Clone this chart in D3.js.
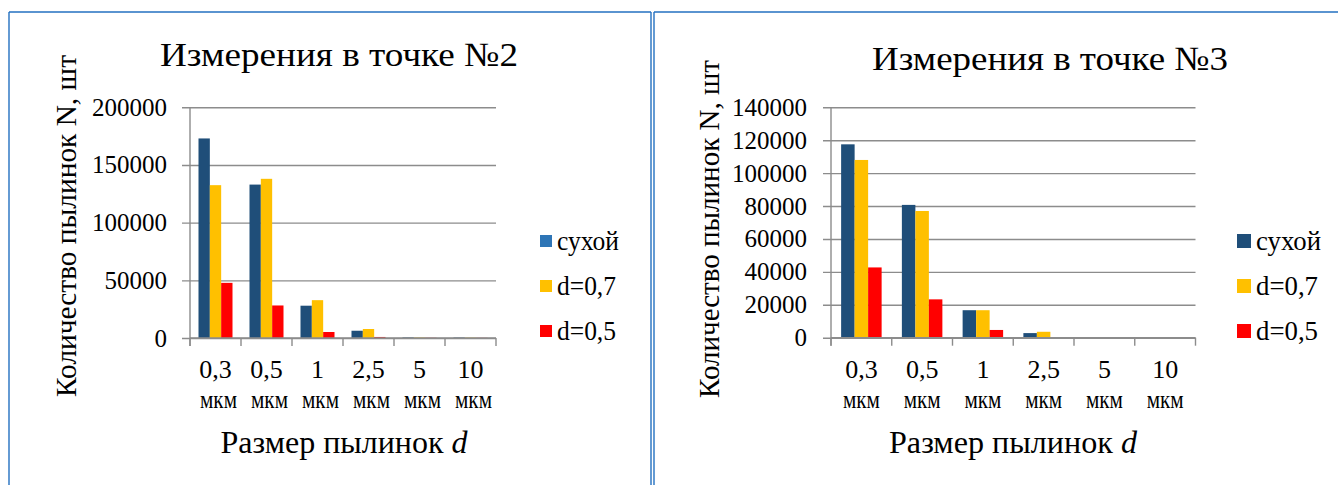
<!DOCTYPE html>
<html>
<head>
<meta charset="utf-8">
<script src="https://cdnjs.cloudflare.com/ajax/libs/d3/7.8.5/d3.min.js"></script>
</head>
<body style="margin:0">
<svg id="chart" width="1338" height="485" font-family="Liberation Serif" style="font-family: 'Liberation Serif'"></svg>
<script>
// Particle size classes (x axis)
const categories = ["0,3", "0,5", "1", "2,5", "5", "10"];
const unitLabel = "мкм";
const seriesNames = ["сухой", "d=0,7", "d=0,5"];

// Measurement point №2, particle counts
const point2Dry = [173000, 133000, 28000, 6300, 500, 400];
const point2D07 = [132500, 138000, 32800, 7800, 400, 300];
const point2D05 = [47800, 28200, 5200, 900, 200, 150];
const point2Ticks = [0, 50000, 100000, 150000, 200000];

// Measurement point №3, particle counts
const point3Dry = [117500, 80700, 16700, 2800, 300, 300];
const point3D07 = [108000, 77000, 16700, 3600, 200, 200];
const point3D05 = [42700, 23300, 4700, 400, 100, 100];
const point3Ticks = [0, 20000, 40000, 60000, 80000, 100000, 120000, 140000];

const barColors = ["#1f4e79", "#ffc000", "#ff0000"];
const gridColor = "#8c8c8c";
const frameColor = "#2370c0";
const fontName = "Liberation Serif";

const svg = d3.select("#chart");

// Text helper: every label gets the serif face directly
function label(parent) {
  return parent.append("text").attr("font-family", fontName).attr("fill", "#000");
}

// Panel frames
const frame = svg.append("g").attr("fill", "none").attr("stroke", frameColor).attr("stroke-width", 1.4);
frame.append("line").attr("x1", 9).attr("x2", 9).attr("y1", 12).attr("y2", 485);
frame.append("line").attr("x1", 9).attr("x2", 651).attr("y1", 12).attr("y2", 12);
frame.append("line").attr("x1", 651).attr("x2", 651).attr("y1", 12).attr("y2", 485);
frame.append("line").attr("x1", 654).attr("x2", 654).attr("y1", 12).attr("y2", 485);
frame.append("line").attr("x1", 654).attr("x2", 1338).attr("y1", 12).attr("y2", 12);

function drawPanel(cfg) {
  const g = svg.append("g");
  const series = cfg.series;

  const x = d3.scaleBand().domain(categories).range([cfg.x0, cfg.x1]).paddingInner(0).paddingOuter(0);
  const y = d3.scaleLinear().domain([0, cfg.max]).range([cfg.yBottom, cfg.yTop]);
  const bw = x.bandwidth() / 4.5;
  const inner = d3.scaleBand().domain([0, 1, 2]).range([bw * 0.75, bw * 3.75]);

  // Horizontal gridlines with left tick stubs
  const yAxis = d3.axisLeft(y).tickValues(cfg.ticks).tickSize(-(cfg.x1 - cfg.x0)).tickFormat(d => String(d)).tickPadding(0);
  const ya = g.append("g").attr("transform", `translate(${cfg.x0},0)`).call(yAxis);
  ya.select(".domain").remove();
  ya.selectAll(".tick line").attr("stroke", gridColor).attr("stroke-width", 1.4).attr("x1", -8);
  ya.selectAll(".tick text").remove();

  // Y tick labels
  const yl = g.append("g");
  cfg.ticks.forEach(t => {
    label(yl).attr("x", cfg.tickLabelRight).attr("y", y(t) + 8.5)
      .attr("text-anchor", "end").attr("font-size", 25).text(String(t));
  });

  // Y axis line
  g.append("line").attr("x1", cfg.x0).attr("x2", cfg.x0).attr("y1", cfg.yTop).attr("y2", cfg.yBottom + 8)
    .attr("stroke", gridColor).attr("stroke-width", 1.4);

  // Bars
  series.forEach((vals, si) => {
    g.append("g").selectAll("rect").data(vals).join("rect")
      .attr("x", (d, i) => x(categories[i]) + inner(si))
      .attr("width", bw)
      .attr("y", d => y(d))
      .attr("height", d => y(0) - y(d))
      .attr("fill", barColors[si]);
  });

  // X axis with ticks between categories
  const bounds = categories.map(c => x(c)).concat([cfg.x1]);
  g.append("line").attr("x1", cfg.x0).attr("x2", cfg.x1).attr("y1", y(0)).attr("y2", y(0))
    .attr("stroke", gridColor).attr("stroke-width", 1.4);
  g.append("g").selectAll("line").data(bounds).join("line")
    .attr("x1", d => d).attr("x2", d => d)
    .attr("y1", y(0)).attr("y2", y(0) + 8)
    .attr("stroke", gridColor).attr("stroke-width", 1.4);

  // Category labels (two lines: value and unit)
  const xl = g.append("g");
  categories.forEach(c => {
    const cx = x(c) + x.bandwidth() / 2;
    label(xl).attr("x", cx).attr("y", 378).attr("text-anchor", "middle")
      .attr("font-size", 26).text(c);
    label(xl).attr("x", cx + cfg.unitShift).attr("y", 408).attr("text-anchor", "middle")
      .attr("font-size", 25).attr("textLength", 37).attr("lengthAdjust", "spacingAndGlyphs")
      .text(unitLabel);
  });

  // Title
  label(g).attr("x", cfg.titleX).attr("y", cfg.titleY)
    .attr("text-anchor", "middle").attr("font-size", 34)
    .attr("textLength", cfg.titleLen).attr("lengthAdjust", "spacingAndGlyphs")
    .text(cfg.title);

  // Y axis title
  label(g).attr("transform", `translate(${cfg.yTitleX},${cfg.yTitleY}) rotate(-90)`)
    .attr("text-anchor", "middle").attr("font-size", 30)
    .attr("textLength", cfg.yTitleLen).attr("lengthAdjust", "spacingAndGlyphs")
    .text("Количество пылинок N, шт");

  // X axis title
  const xt = label(g).attr("x", cfg.xTitleX).attr("y", 453)
    .attr("text-anchor", "middle").attr("font-size", 31)
    .attr("textLength", cfg.xTitleLen).attr("lengthAdjust", "spacingAndGlyphs");
  xt.append("tspan").text("Размер пылинок ");
  xt.append("tspan").attr("font-style", "italic").text("d");

  // Legend
  const lg = g.append("g");
  seriesNames.forEach((name, i) => {
    const cy = cfg.legendY + i * 45;
    lg.append("rect")
      .attr("x", cfg.legendX).attr("y", cy - cfg.swatch / 2)
      .attr("width", cfg.swatch).attr("height", cfg.swatch)
      .attr("fill", cfg.legendColors[i]);
    label(lg).attr("x", cfg.legendX + cfg.swatch + 5).attr("y", cy + 8.5)
      .attr("font-size", 27)
      .attr("textLength", cfg.legendLens[i]).attr("lengthAdjust", "spacingAndGlyphs")
      .text(name);
  });
}

drawPanel({
  series: [point2Dry, point2D07, point2D05],
  ticks: point2Ticks, max: 200000,
  x0: 190, x1: 496, yTop: 107.3, yBottom: 338,
  tickLabelRight: 167,
  unitShift: 3,
  title: "Измерения в точке №2", titleX: 339, titleY: 66, titleLen: 358,
  yTitleX: 76, yTitleY: 226, yTitleLen: 342,
  xTitleX: 344, xTitleLen: 247,
  legendX: 540, legendY: 241, swatch: 12,
  legendColors: ["#2e75b6", "#ffc000", "#ff0000"],
  legendLens: [62, 59, 59]
});

drawPanel({
  series: [point3Dry, point3D07, point3D05],
  ticks: point3Ticks, max: 140000,
  x0: 831, x1: 1195.5, yTop: 107.3, yBottom: 337.7,
  tickLabelRight: 807,
  unitShift: 0,
  title: "Измерения в точке №3", titleX: 1050, titleY: 70, titleLen: 356,
  yTitleX: 719, yTitleY: 229, yTitleLen: 338,
  xTitleX: 1013, xTitleLen: 248,
  legendX: 1237, legendY: 241, swatch: 14,
  legendColors: ["#1f4e79", "#ffc000", "#ff0000"],
  legendLens: [65, 62, 62]
});
</script>
</body>
</html>
